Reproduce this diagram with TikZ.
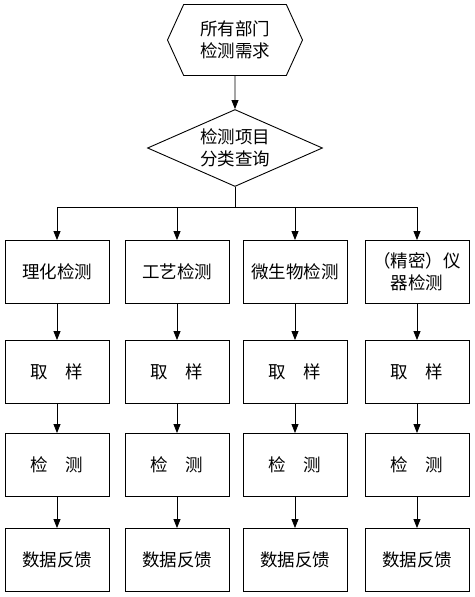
\documentclass[tikz,border=0pt]{standalone}
\usepackage{fontspec}
\setmainfont{Noto Sans CJK SC}
\usetikzlibrary{shapes.geometric,shapes.symbols,arrows.meta}
\tikzset{
  box/.style={draw,minimum width=104pt,minimum height=63pt,align=center},
  need/.style={draw,shape=signal,signal to=west and east,signal pointer angle=131,
    minimum width=135pt,minimum height=71pt,inner sep=0pt,align=center},
  query/.style={draw,diamond,aspect=2.27,minimum width=175pt,minimum height=77pt,
    inner sep=0pt,align=center}
}
\begin{document}
\begin{tikzpicture}[x=1pt,y=-1pt,line width=0.9pt,
    font=\fontsize{17.5}{22}\selectfont,>={Triangle[length=9pt,width=7pt]}]
    \useasboundingbox (0,0) rectangle (474,597);
    \node[need] (dept) at (235,40) {所有部门\\检测需求};
    \node[query] (sort) at (235,148) {检测项目\\分类查询};
    \coordinate (bus) at (235,207);
    \draw[->] (dept) -- (sort);
    \draw (sort) -- (bus);
    % four kinds of test
    \foreach \x/\n/\t in {57/a/理化检测, 177/b/工艺检测, 295/c/微生物检测,
        417/d/{（精密）仪\\器检测}} {
        \node[box] (\n1) at (\x,272) {\t};
        \node[box] (\n2) at (\x,372) {取\hspace{1em}样};
        \node[box] (\n3) at (\x,465) {检\hspace{1em}测};
        \node[box] (\n4) at (\x,560) {数据反馈};
        \draw[->] (\n1.north |- bus) -- (\n1);
        \draw[->] (\n1) -- (\n2);
        \draw[->] (\n2) -- (\n3);
        \draw[->] (\n3) -- (\n4);
    }
    \draw (a1.north |- bus) -- (d1.north |- bus);
\end{tikzpicture}
\end{document}
